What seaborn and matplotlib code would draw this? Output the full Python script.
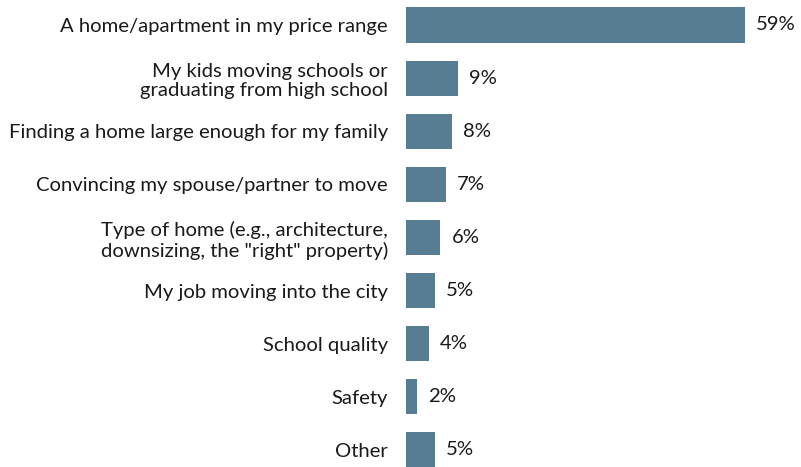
import matplotlib
matplotlib.use("Agg")
import matplotlib.pyplot as plt
import seaborn as sns
import pandas as pd

categories = [
    "A home/apartment in my price range",
    "My kids moving schools or\ngraduating from high school",
    "Finding a home large enough for my family",
    "Convincing my spouse/partner to move",
    "Type of home (e.g., architecture,\ndownsizing, the \"right\" property)",
    "My job moving into the city",
    "School quality",
    "Safety",
    "Other",
]
values = [59, 9, 8, 7, 6, 5, 4, 2, 5]

df = pd.DataFrame({"category": categories, "value": values})

sns.set_theme(style="white")
plt.rcParams["font.family"] = ["Lato", "DejaVu Sans"]

fig = plt.figure(figsize=(8.01, 4.67), dpi=100)
ax = fig.add_axes([406 / 801, 0, 395 / 801, 1])

sns.barplot(data=df, x="value", y="category", orient="h", color="#577d93",
            saturation=1, width=0.66, linewidth=0, ax=ax)

ax.set_xlim(0, 68.7)
ax.set_ylim(8.32, -0.47)
ax.set_xlabel("")
ax.set_ylabel("")
ax.set_xticks([])
for s in ax.spines.values():
    s.set_visible(False)
ax.tick_params(axis="y", length=0, pad=13, labelsize=14.6, labelcolor="#1a1a1a")
for lab in ax.get_yticklabels():
    lab.set_horizontalalignment("right")
    lab.set_multialignment("right")
    lab.set_linespacing(1.2)

for i, v in enumerate(values):
    ax.text(v + 1.9, i, f"{v}%", va="center", ha="left", fontsize=14.6, color="#1a1a1a")

fig.savefig("out.png", dpi=100)
